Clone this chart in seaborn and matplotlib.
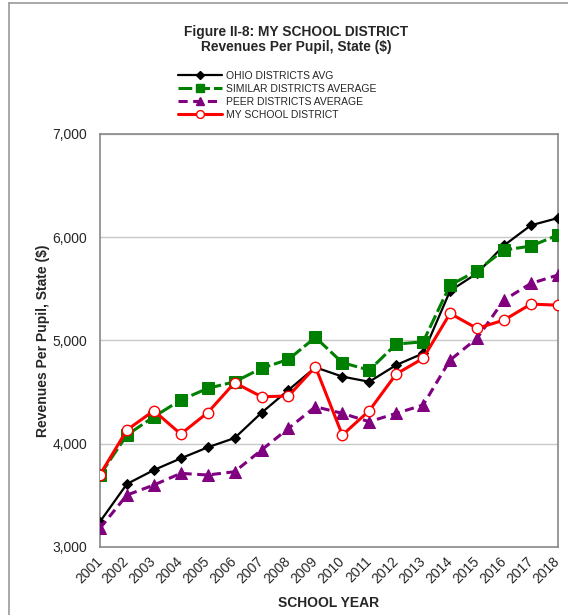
import matplotlib
matplotlib.use("Agg")
import matplotlib.pyplot as plt
from matplotlib.lines import Line2D
from matplotlib.ticker import FuncFormatter
import seaborn as sns
import pandas as pd

# ---- data ----
YEARS = list(range(2001, 2019))
OHIO_AVG = [3245, 3610, 3745, 3858, 3965, 4055, 4300, 4520, 4740, 4650,
            4600, 4762, 4875, 5480, 5650, 5920, 6115, 6185]
SIMILAR_AVG = [3697, 4084, 4261, 4423, 4536, 4600, 4730, 4817, 5030, 4785,
               4713, 4965, 4987, 5536, 5675, 5875, 5914, 6020]
PEER_AVG = [3181, 3503, 3600, 3713, 3697, 3729, 3939, 4149, 4358, 4294,
            4213, 4294, 4375, 4810, 5020, 5391, 5552, 5633]
MY_DISTRICT = [3700, 4133, 4320, 4094, 4301, 4591, 4455, 4462, 4745, 4084,
               4320, 4675, 4827, 5262, 5117, 5197, 5352, 5342]

SERIES_NAMES = ["OHIO DISTRICTS AVG", "SIMILAR DISTRICTS AVERAGE",
                "PEER DISTRICTS AVERAGE", "MY SCHOOL DISTRICT"]

df = pd.DataFrame({"year": YEARS, SERIES_NAMES[0]: OHIO_AVG, SERIES_NAMES[1]: SIMILAR_AVG,
                   SERIES_NAMES[2]: PEER_AVG, SERIES_NAMES[3]: MY_DISTRICT})

sns.set_style("white")
plt.rcParams["font.family"] = ["Liberation Sans", "DejaVu Sans"]

fig = plt.figure(figsize=(5.68, 6.15), dpi=100)
ax = fig.add_axes([0.176, 0.1106, 0.806, 0.6716])

styles = {
    SERIES_NAMES[0]: dict(color="black", marker="D", markersize=5.5, lw=1.6,
                          linestyle="-", markeredgecolor="black"),
    SERIES_NAMES[1]: dict(color="#008000", marker="s", markersize=8, lw=2.2,
                          linestyle=(0, (4.5, 1.3)), markeredgecolor="#008000"),
    SERIES_NAMES[2]: dict(color="#800080", marker="^", markersize=8.5, lw=2.2,
                          linestyle=(0, (3, 1.8)), markeredgecolor="#800080"),
    SERIES_NAMES[3]: dict(color="#ff0000", marker="o", markersize=7.5, lw=2.2,
                          linestyle="-", markerfacecolor="white",
                          markeredgecolor="#ff0000", markeredgewidth=1.0),
}

for i, name in enumerate(SERIES_NAMES):
    sns.lineplot(data=df, x="year", y=name, ax=ax, zorder=3 + i, **styles[name])

ax.set_xlim(2001, 2018)
ax.set_ylim(3000, 7000)
ax.set_xticks(YEARS)
ax.set_xticklabels([str(y) for y in YEARS], rotation=45, ha="right", va="center",
                   rotation_mode="anchor", fontsize=10)
ax.set_yticks([3000, 4000, 5000, 6000, 7000])
ax.yaxis.set_major_formatter(FuncFormatter(lambda v, p: f"{int(v):,}"))
ax.tick_params(axis="y", labelsize=10, length=3, color="#888888", width=1, pad=6)
ax.tick_params(axis="x", length=3, color="#888888", width=1, pad=6)
ax.grid(axis="y", color="#c8c8c8", lw=1)
for sp in ax.spines.values():
    sp.set_color("#888888")
    sp.set_linewidth(1.2)

ax.set_xlabel("SCHOOL YEAR", fontsize=10, fontweight="bold", labelpad=7)
ax.set_ylabel("Revenues Per Pupil, State ($)", fontsize=10, fontweight="bold", labelpad=2)

fig.text(0.521, 0.948, "Figure II-8: MY SCHOOL DISTRICT", ha="center", va="center",
         fontsize=9.9, fontweight="bold")
fig.text(0.521, 0.924, "Revenues Per Pupil, State ($)", ha="center", va="center",
         fontsize=9.9, fontweight="bold")

handles = [Line2D([], [], **styles[n]) for n in SERIES_NAMES]
fig.legend(handles, SERIES_NAMES, loc="upper left", bbox_to_anchor=(0.304, 0.893),
           frameon=False, fontsize=7.5, handlelength=4.2, handletextpad=0.4,
           labelspacing=0.28, borderpad=0, numpoints=1, markerscale=0.75)

# outer chart frame (top and left edges visible in reference)
fig.add_artist(Line2D([0.016, 1.0], [0.995, 0.995], color="#999999", lw=1.2))
fig.add_artist(Line2D([0.016, 0.016], [0.0, 0.995], color="#999999", lw=1.2))

fig.savefig("out.png", dpi=100)
